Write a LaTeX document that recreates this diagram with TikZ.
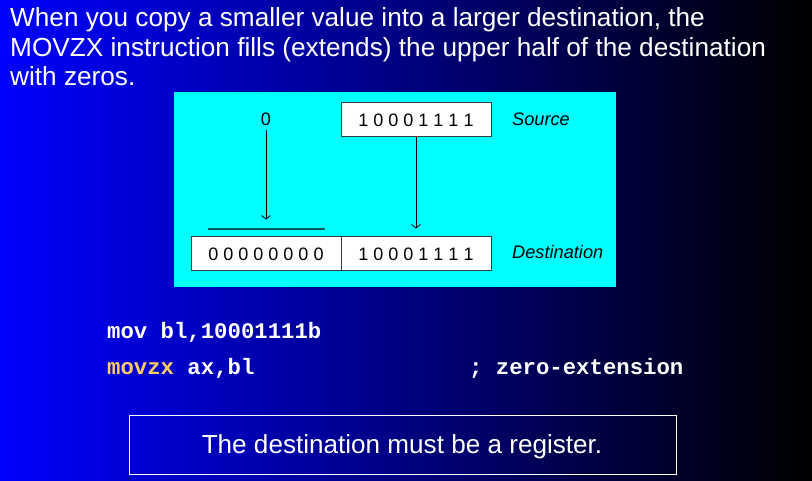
\documentclass[tikz,border=0pt]{standalone}
\usepackage{fontspec}
\setmainfont{Liberation Sans}
\setmonofont{Liberation Mono}
\usetikzlibrary{arrows.meta}
\definecolor{bgblue}{RGB}{0,0,255}
\definecolor{bgmid}{RGB}{0,0,190}
\definecolor{panelcyan}{RGB}{0,255,255}
\definecolor{codegold}{RGB}{255,204,102}
\definecolor{zeroline}{RGB}{0,90,90}
\definecolor{boxline}{RGB}{60,60,60}
\tikzset{
  title/.style={anchor=base west, text=white, font=\fontsize{26.2}{30}\selectfont, inner sep=0pt},
  bitbox/.style={draw=boxline, line width=1pt, fill=white, minimum width=150pt, minimum height=34pt, inner sep=0pt, font=\fontsize{18}{20}\selectfont},
  lbl/.style={anchor=base west, font=\fontsize{18.2}{20}\selectfont\itshape, inner sep=0pt},
  code/.style={anchor=base west, text=white, font=\fontsize{22.3}{24}\selectfont\ttfamily\bfseries, inner sep=0pt},
  flow/.style={line width=0.8pt, -{Straight Barb[length=3.5pt,width=9pt]}},
}
\begin{document}
\begin{tikzpicture}[x=1pt,y=-1pt]
\useasboundingbox (0,0) rectangle (812,481);
\shade[left color=bgblue, middle color=bgmid, right color=black] (0,0) rectangle (812,481);
% title
\node[title] (t1) at (10,27) {When you copy a smaller value into a larger destination, the};
\node[title] (t2) at (10,56.5) {MOVZX instruction fills (extends) the upper half of the destination};
\node[title] (t3) at (10,86) {with zeros.};
% cyan panel
\node[fill=panelcyan, minimum width=442pt, minimum height=195pt, inner sep=0pt, anchor=north west] (panel) at (174,92) {};
% boxes
\node[bitbox] (src) at (416,120) {1 0 0 0 1 1 1 1};
\node[bitbox] (dhi) at (266,254) {0 0 0 0 0 0 0 0};
\node[bitbox] (dlo) at (416,254) {1 0 0 0 1 1 1 1};
\node[anchor=base, inner sep=0pt, font=\fontsize{18}{20}\selectfont] (z) at (266,126) {0};
\node[lbl] (srcl) at (512,126) {Source};
\node[lbl] (dstl) at (512,259) {Destination};
% zero line
\coordinate (zl1) at (208,229);
\coordinate (zl2) at (325,229);
\draw[zeroline, line width=1.5pt] (zl1) -- (zl2);
% arrows
\draw[flow, shorten <=4pt, shorten >=17pt] (z.south) -- (dhi.north);
\draw[flow, shorten >=8pt] (src.south) -- (dlo.north);
% code
\node[code] (c1) at (107,339) {mov bl,10001111b};
\node[code] (c2) at (107,374) {\textcolor{codegold}{movzx} ax,bl};
\node[code] (c3) at (469,374) {; zero-extension};
% bottom box
\node[draw=white, line width=1pt, minimum width=547pt, minimum height=59pt, inner sep=0pt, anchor=north west] (note) at (129,415) {};
\node[anchor=base, text=white, inner sep=0pt, font=\fontsize{26.1}{30}\selectfont] (notet) at (402,453) {The destination must be a register.};
\end{tikzpicture}
\end{document}
